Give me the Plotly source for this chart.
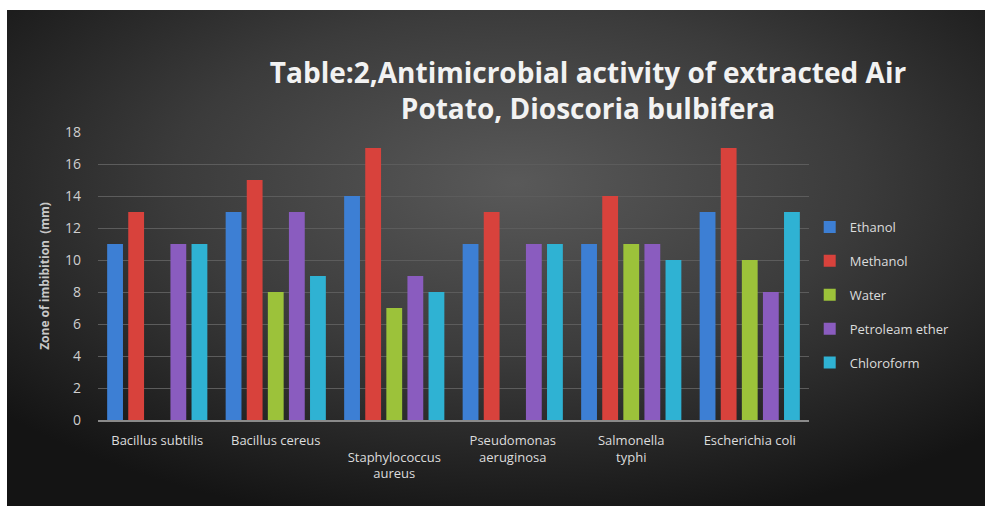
import plotly.graph_objects as go

categories = ["Bacillus subtilis", "Bacillus cereus", "<br>Staphylococcus<br>aureus",
              "Pseudomonas<br>aeruginosa", "Salmonella<br>typhi", "Escherichia coli"]
ethanol = [11, 13, 14, 11, 11, 13]
methanol = [13, 15, 17, 13, 14, 17]
water = [0, 8, 7, 0, 11, 10]
petroleum_ether = [11, 13, 9, 11, 11, 8]
chloroform = [11, 9, 8, 11, 10, 13]
y_ticks = [0, 2, 4, 6, 8, 10, 12, 14, 16, 18]

series = [
    ("Ethanol", ethanol, "#3d7fd4"),
    ("Methanol", methanol, "#d8423c"),
    ("Water", water, "#9cc23a"),
    ("Petroleam ether", petroleum_ether, "#8a5cbf"),
    ("Chloroform", chloroform, "#2fb2d3"),
]

W, H = 985, 506
L, R, T, B = 98, 176, 132, 86
PW, PH = W - L - R, H - T - B
BX, BY = 7, 10  # white border left / top

fig = go.Figure()
for name, vals, col in series:
    fig.add_trace(go.Bar(
        x=categories, y=vals, name=name, legendgroup=name,
        marker=dict(color=col, line=dict(width=0)),
    ))

svg = ("data:image/svg+xml;utf8,"
       "<svg xmlns='http://www.w3.org/2000/svg' width='978' height='496'>"
       "<defs><radialGradient id='g' cx='52%' cy='35%' r='70%'>"
       "<stop offset='0%' stop-color='%23595959'/>"
       "<stop offset='50%' stop-color='%233b3b3b'/>"
       "<stop offset='100%' stop-color='%23141414'/>"
       "</radialGradient></defs>"
       "<rect width='978' height='496' fill='url(%23g)'/></svg>")

fig.update_layout(
    width=W, height=H,
    paper_bgcolor="white",
    plot_bgcolor="rgba(0,0,0,0)",
    margin=dict(l=L, r=R, t=T, b=B, autoexpand=False),
    barmode="group",
    bargap=0.11,
    bargroupgap=0.25,
    title=dict(
        text="<b>Table:2,Antimicrobial activity of extracted Air<br>Potato, Dioscoria bulbifera</b>",
        x=588 / W, xanchor="center", y=1 - 83 / H, yanchor="middle",
        font=dict(family="Open Sans, Liberation Sans, sans-serif", size=28, color="#f2f2f2"),
    ),
    font=dict(family="Open Sans, Liberation Sans, sans-serif", color="#d9d9d9", size=12),
    yaxis=dict(
        range=[0, 18], tickvals=y_ticks, showgrid=True, gridcolor="#5c5c5c", gridwidth=1,
        zeroline=False, showline=False, ticks="", ticklabelstandoff=16,
        tickfont=dict(size=14, color="#cfcfcf"),
        title=dict(text="<b>Zone of imbibition  (mm)</b>", font=dict(size=12, color="#c8c8c8"), standoff=12),
    ),
    xaxis=dict(
        showline=True, linecolor="#8a8a8a", linewidth=2, ticks="", ticklabelstandoff=7,
        tickfont=dict(size=13, color="#dcdcdc"), showgrid=False,
    ),
    legend=dict(
        x=1.001, xanchor="left", y=(420 - 295) / PH, yanchor="middle",
        font=dict(size=13, color="#dcdcdc"), bgcolor="rgba(0,0,0,0)",
        tracegroupgap=14, itemwidth=30,
    ),
    images=[dict(
        source=svg, xref="paper", yref="paper", x=-(L - BX) / PW, y=1 + (T - BY) / PH,
        sizex=(W - BX) / PW, sizey=(H - BY) / PH, xanchor="left", yanchor="top",
        sizing="stretch", layer="below",
    )],
)

fig.write_html("out.html", config={"displayModeBar": False},
               post_script="document.body.style.margin='0px';")
